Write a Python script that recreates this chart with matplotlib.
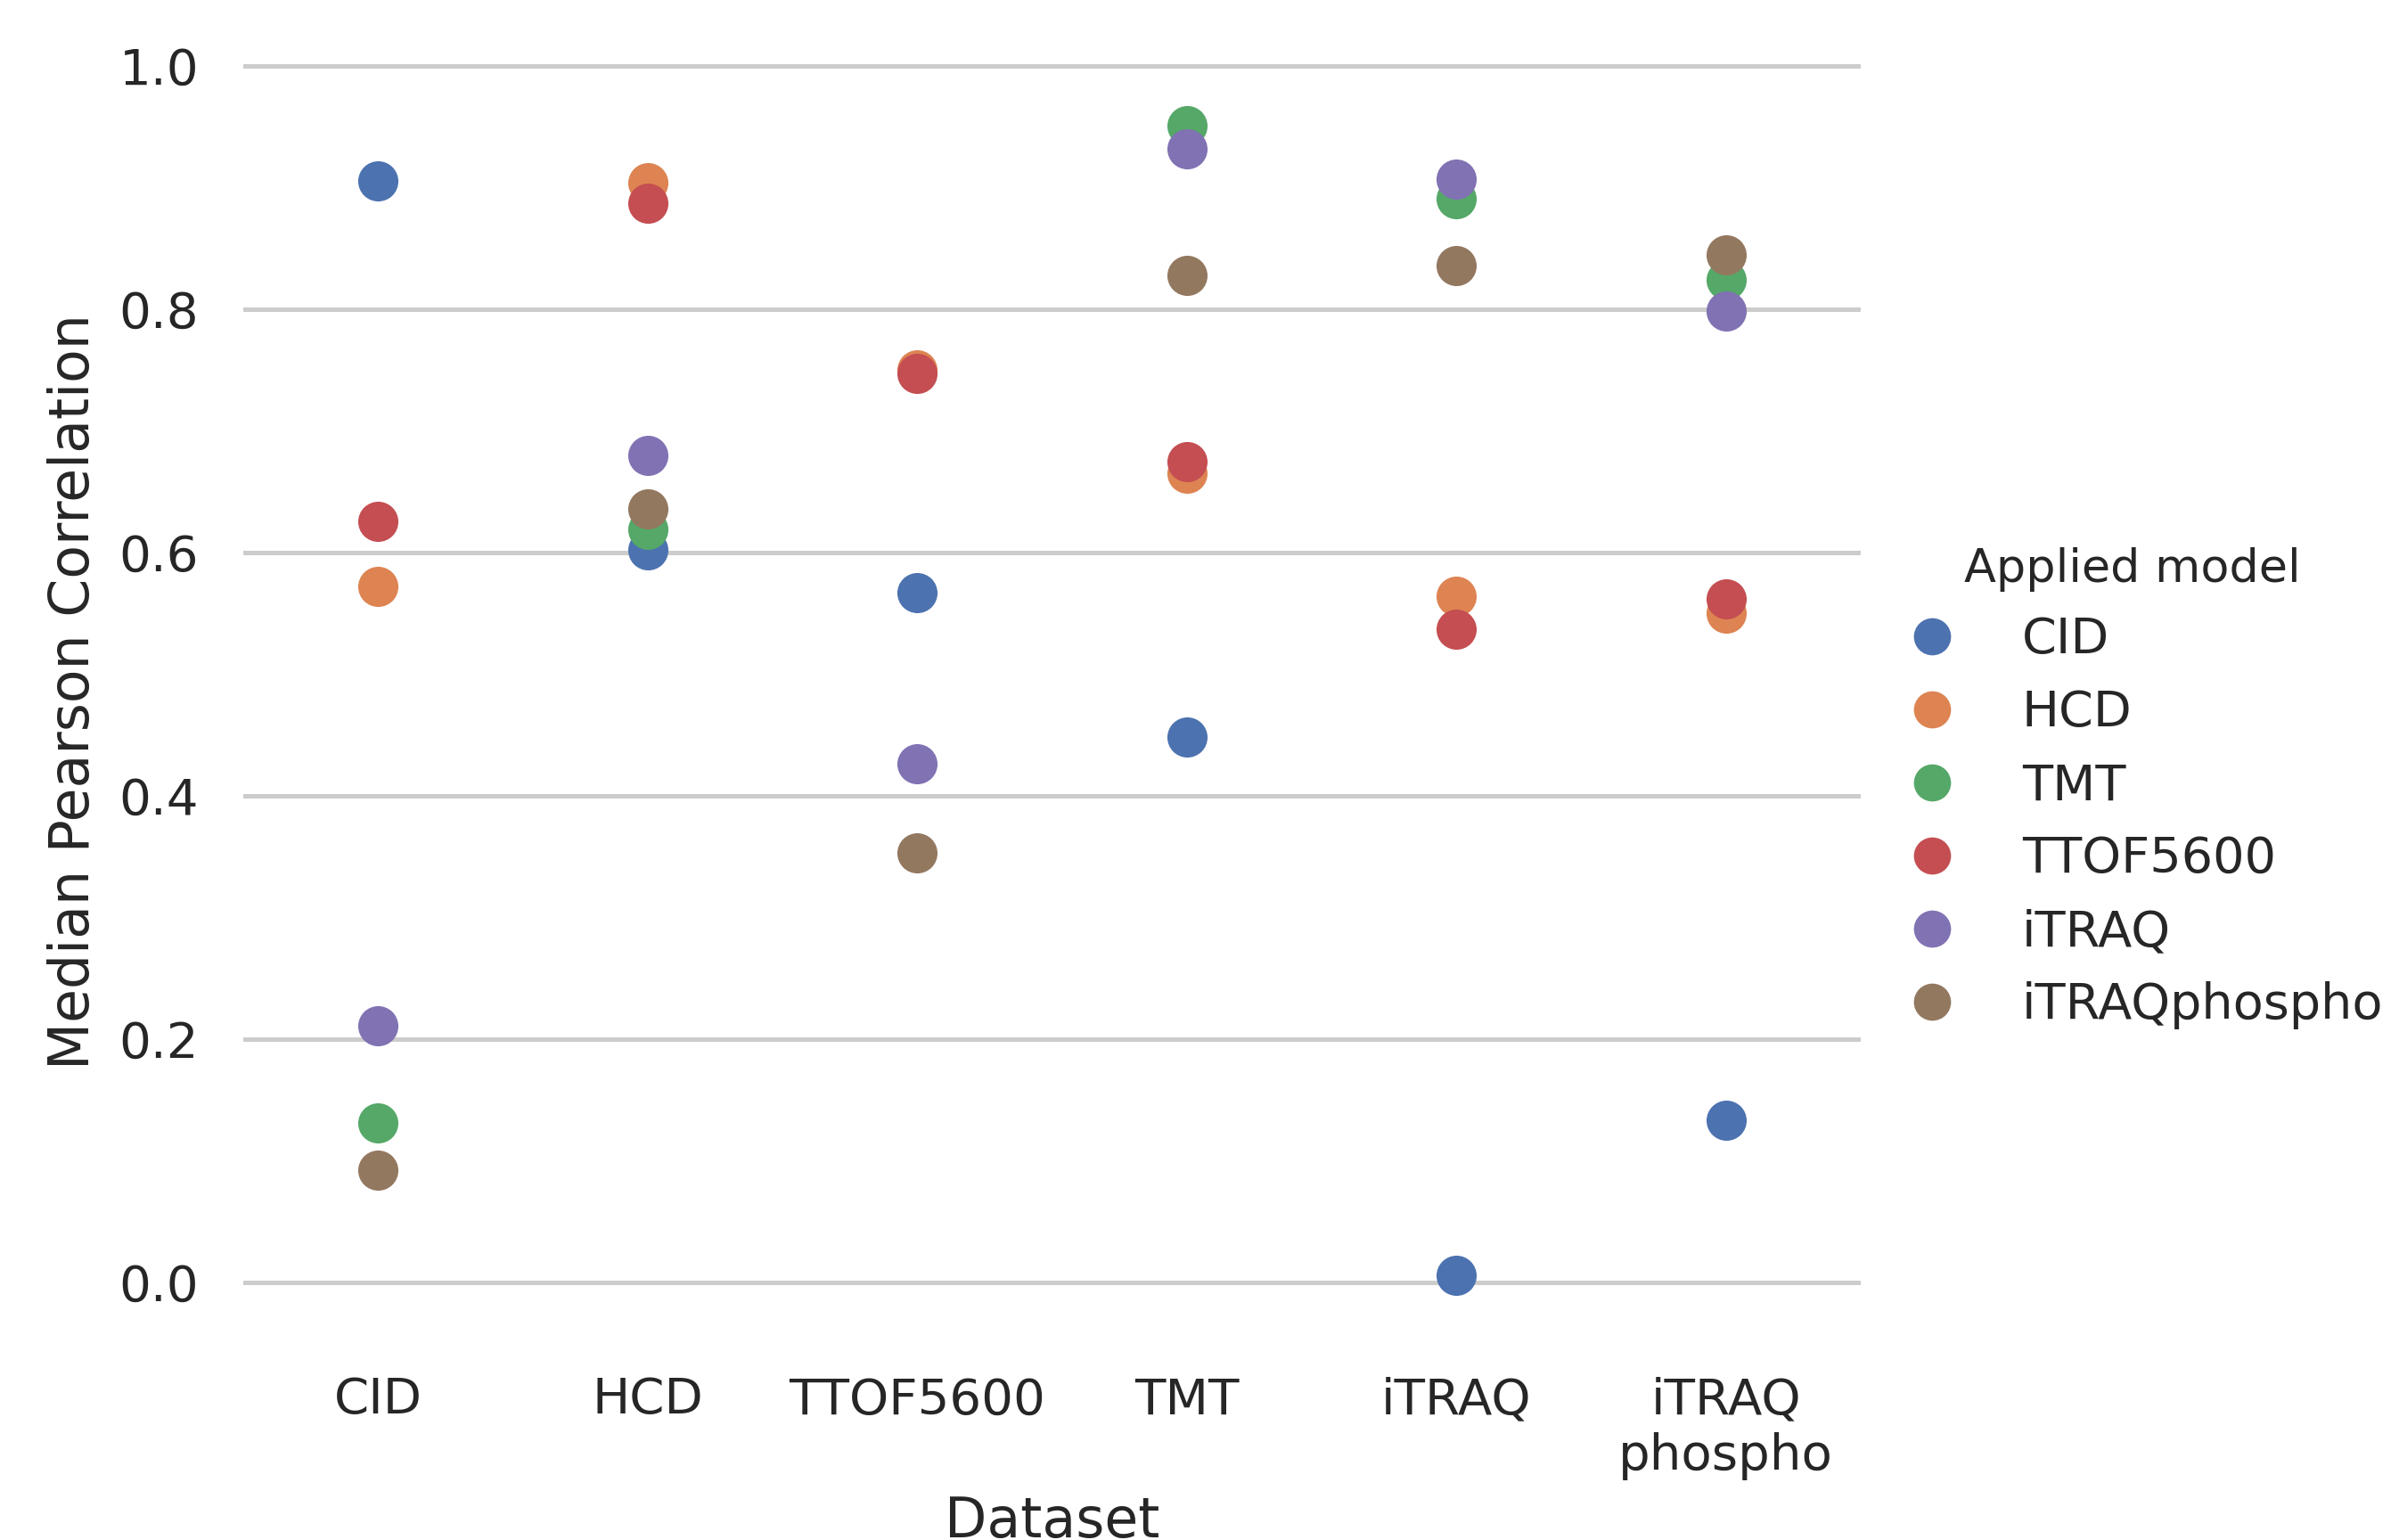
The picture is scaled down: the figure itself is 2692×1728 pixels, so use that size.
import matplotlib
matplotlib.use("Agg")
import matplotlib.pyplot as plt
from matplotlib.lines import Line2D
import numpy as np

datasets = ["CID", "HCD", "TTOF5600", "TMT", "iTRAQ", "iTRAQ\nphospho"]
models = ["CID", "HCD", "TMT", "TTOF5600", "iTRAQ", "iTRAQphospho"]
colors = ["#4C72B0", "#DD8452", "#55A868", "#C44E52", "#8172B3", "#937860"]

# median pearson correlation of each applied model, per dataset (order as datasets)
cid_model = [0.906, 0.602, 0.567, 0.448, 0.006, 0.133]
hcd_model = [0.572, 0.904, 0.750, 0.665, 0.564, 0.550]
tmt_model = [0.131, 0.619, np.nan, 0.951, 0.891, 0.824]
ttof_model = [0.626, 0.887, 0.747, 0.675, 0.537, 0.562]
itraq_model = [0.211, 0.680, 0.426, 0.932, 0.907, 0.799]
itraqphospho_model = [0.092, 0.636, 0.353, 0.828, 0.836, 0.845]

values = [cid_model, hcd_model, tmt_model, ttof_model, itraq_model, itraqphospho_model]


def main():
    plt.rcParams["font.family"] = ["DejaVu Sans"]
    text_col = "#262626"

    fig = plt.figure(figsize=(2692 / 300, 1728 / 300), dpi=300)
    ax = fig.add_axes([0.1014, 0.1279, 0.6742, 0.8686])

    x = np.arange(len(datasets))
    for name, col, vals in zip(models, colors, values):
        ax.scatter(x, vals, s=117, color=col, linewidths=0, zorder=3, label=name)

    ax.set_xlim(-0.5, len(datasets) - 0.5)
    ax.set_ylim(-0.05, 1.05)
    ax.set_yticks([0.0, 0.2, 0.4, 0.6, 0.8, 1.0])
    ax.set_xticks(x)
    ax.set_xticklabels(datasets, fontsize=13.5, color=text_col, va="top")
    ax.tick_params(axis="x", length=0, pad=9)
    ax.tick_params(axis="y", length=0, pad=12, labelsize=13.5, labelcolor=text_col)

    ax.yaxis.grid(True, color="#cccccc", linewidth=1.2, zorder=0)
    ax.xaxis.grid(False)
    ax.set_axisbelow(True)
    for sp in ax.spines.values():
        sp.set_visible(False)

    ax.set_xlabel("Dataset", fontsize=14.8, color=text_col, labelpad=4)
    ax.set_ylabel("Median Pearson Correlation", fontsize=14.8, color=text_col, labelpad=5)
    ax.yaxis.label.set_y(0.487)

    handles = [Line2D([], [], marker="o", linestyle="", markersize=10,
                      markerfacecolor=c, markeredgewidth=0) for c in colors]
    leg = fig.legend(handles, models, title="Applied model", frameon=False,
                     loc="upper left", bbox_to_anchor=(0.766, 0.674),
                     fontsize=13.4, title_fontsize=12.6, labelspacing=0.5,
                     handletextpad=0.8)
    for t in leg.get_texts():
        t.set_color(text_col)
    leg.get_title().set_color(text_col)

    fig.savefig("out.png", dpi=300)


if __name__ == "__main__":
    main()
